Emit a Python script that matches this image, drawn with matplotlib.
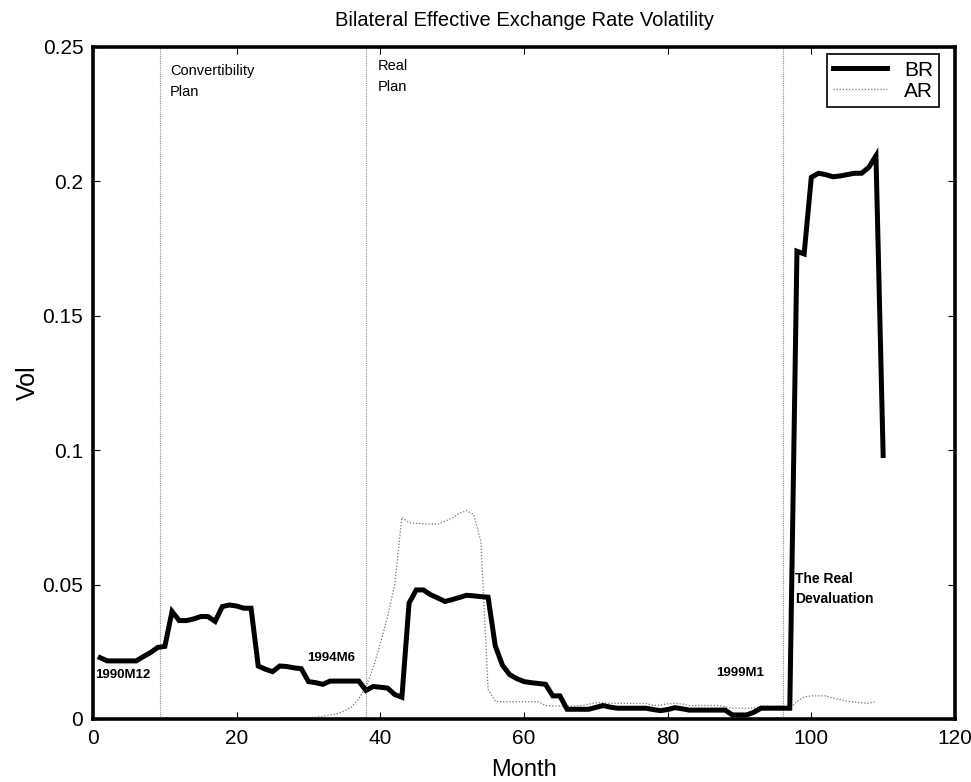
"""
Volatilidad del tipo de cambio efectivo bilateral (BR y AR), datos mensuales.
"""

import numpy as np
import matplotlib

matplotlib.use("Agg")
import matplotlib.pyplot as plt


# Meses (eje x)
meses = list(range(1, 111))

# Serie BR (meses 1..110)
br = [
    0.0228, 0.0216, 0.0216, 0.0216, 0.0216, 0.0216, 0.0232, 0.0247, 0.0266, 0.0270,
    0.0400, 0.0366, 0.0366, 0.0372, 0.0381, 0.0381, 0.0363, 0.0418, 0.0424, 0.0420,
    0.0412, 0.0412, 0.0197, 0.0185, 0.0176, 0.0197, 0.0195, 0.0190, 0.0187, 0.0139,
    0.0135, 0.0129, 0.0141, 0.0141, 0.0141, 0.0141, 0.0141, 0.0106, 0.0121, 0.0118,
    0.0115, 0.0091, 0.0081, 0.0431, 0.0480, 0.0480, 0.0462, 0.0450, 0.0437, 0.0444,
    0.0452, 0.0460, 0.0458, 0.0455, 0.0453, 0.0272, 0.0200, 0.0165, 0.0150, 0.0139,
    0.0135, 0.0132, 0.0129, 0.0086, 0.0086, 0.0036, 0.0036, 0.0036, 0.0036, 0.0043,
    0.0050, 0.0044, 0.0040, 0.0040, 0.0040, 0.0040, 0.0040, 0.0035, 0.0031, 0.0035,
    0.0042, 0.0038, 0.0033, 0.0033, 0.0033, 0.0033, 0.0033, 0.0033, 0.0015, 0.0015,
    0.0015, 0.0025, 0.0040, 0.0040, 0.0040, 0.0040, 0.0040, 0.1740, 0.1730, 0.2015,
    0.2030, 0.2025, 0.2017, 0.2020, 0.2025, 0.2030, 0.2030, 0.2052, 0.2095, 0.0980,
]

# Serie AR (meses 1..110); None = sin dato visible
ar = [
    None, None, None, None, None, None, None, None, None, None,
    None, None, None, None, None, None, None, None, None, None,
    None, None, None, None, None, None, 0.0002, 0.0003, 0.0004, 0.0005,
    0.0006, 0.0010, 0.0015, 0.0020, 0.0030, 0.0045, 0.0075, 0.0120, 0.0190, 0.0280,
    0.0380, 0.0500, 0.0750, 0.0730, 0.0728, 0.0726, 0.0725, 0.0725, 0.0735, 0.0748,
    0.0765, 0.0775, 0.0760, 0.0660, 0.0110, 0.0066, 0.0064, 0.0064, 0.0064, 0.0064,
    0.0064, 0.0064, 0.0050, 0.0048, 0.0048, 0.0048, 0.0048, 0.0050, 0.0055, 0.0060,
    0.0060, 0.0058, 0.0058, 0.0058, 0.0058, 0.0058, 0.0058, 0.0050, 0.0052, 0.0056,
    0.0058, 0.0056, 0.0050, 0.0050, 0.0050, 0.0050, 0.0050, 0.0045, 0.0040, 0.0040,
    0.0040, 0.0040, 0.0048, 0.0048, 0.0048, 0.0048, 0.0040, 0.0065, 0.0082, 0.0086,
    0.0086, 0.0086, 0.0078, 0.0072, 0.0066, 0.0063, 0.0060, 0.0058, 0.0065, None,
]

# Fechas de los eventos (líneas verticales)
eventos_x = [9.3, 38.0, 96.0]

# Etiquetas de texto
etiquetas = ["Convertibility\nPlan", "Real\nPlan", "1990M12", "1994M6", "1999M1",
             "The Real\nDevaluation"]

xticks = [0, 20, 40, 60, 80, 100, 120]
yticks = [0, 0.05, 0.1, 0.15, 0.2, 0.25]
yticklabels = ["0", "0.05", "0.1", "0.15", "0.2", "0.25"]


plt.rcParams["font.family"] = ["Liberation Sans", "DejaVu Sans"]

fig = plt.figure(figsize=(9.71, 7.82), dpi=100)
ax = fig.add_axes([0.0958, 0.0806, 0.8877, 0.8594])

ar_arr = np.array([np.nan if v is None else v for v in ar], dtype=float)

# líneas verticales punteadas de los eventos
for xv in eventos_x:
    ax.axvline(xv, color="0.55", lw=0.8, ls=(0, (1, 1)), zorder=1)

ax.plot(meses, ar_arr, color="0.45", lw=0.9, ls=(0, (1, 1.5)), label="AR", zorder=2)
ax.plot(meses, br, color="black", lw=3.6, solid_joinstyle="miter", label="BR", zorder=3)

# textos
ax.text(10.7, 0.2435, etiquetas[0], fontsize=10.5, va="top", ha="left", linespacing=1.6)
ax.text(39.6, 0.2455, etiquetas[1], fontsize=10.5, va="top", ha="left", linespacing=1.6)
ax.text(0.3, 0.0164, etiquetas[2], fontsize=9.5, va="center", ha="left", fontweight="bold")
ax.text(29.8, 0.0227, etiquetas[3], fontsize=9.5, va="center", ha="left", fontweight="bold")
ax.text(86.8, 0.0171, etiquetas[4], fontsize=9.5, va="center", ha="left", fontweight="bold")
ax.text(97.7, 0.0548, etiquetas[5], fontsize=10, va="top", ha="left", linespacing=1.6,
        fontweight="bold")

ax.set_xlim(0, 120)
ax.set_ylim(0, 0.25)
ax.set_xticks(xticks)
ax.set_yticks(yticks)
ax.set_yticklabels(yticklabels)
ax.tick_params(direction="in", length=5, width=0.8, top=True, right=True,
               labelsize=15, pad=7)

for s in ax.spines.values():
    s.set_linewidth(2.6)

ax.set_xlabel("Month", fontsize=17, labelpad=8)
ax.set_ylabel("Vol", fontsize=18, labelpad=2)
ax.set_title("Bilateral Effective Exchange Rate Volatility", fontsize=14.5, pad=15)

# leyenda con BR primero
h, l = ax.get_legend_handles_labels()
leg = ax.legend(h[::-1], l[::-1], loc="upper right", bbox_to_anchor=(0.982, 0.989),
                fontsize=15, fancybox=False, framealpha=1, edgecolor="black",
                handlelength=2.6, borderaxespad=0.0, borderpad=0.3,
                handletextpad=0.8, labelspacing=0.1)
leg.get_frame().set_linewidth(1.2)

fig.savefig("out.png", dpi=100)
